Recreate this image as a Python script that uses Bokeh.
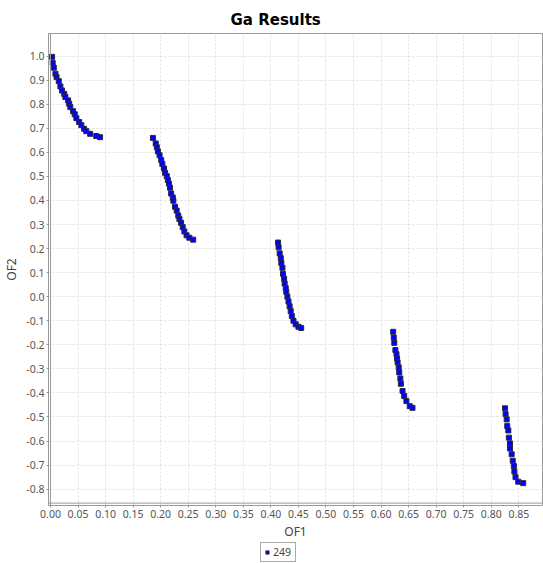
from bokeh.plotting import figure
from bokeh.layouts import column
from bokeh.models import (Range1d, SingleIntervalTicker, NumeralTickFormatter,
                          Legend, LegendItem, Span)
from bokeh.embed import file_html
from bokeh.resources import INLINE

# Pareto front points found by the GA, grouped by front segment
seg1_of1 = [0.003, 0.004, 0.006, 0.009, 0.011, 0.015, 0.018, 0.021, 0.025, 0.027,
            0.032, 0.034, 0.036, 0.041, 0.044, 0.047, 0.052, 0.056, 0.061, 0.065,
            0.072, 0.083, 0.090]
seg1_of2 = [0.997, 0.972, 0.952, 0.927, 0.913, 0.896, 0.874, 0.857, 0.843, 0.830,
            0.816, 0.802, 0.788, 0.771, 0.758, 0.742, 0.726, 0.713, 0.698, 0.688,
            0.677, 0.668, 0.663]

seg2_of1 = [0.186, 0.191, 0.193, 0.195, 0.198, 0.201, 0.203, 0.206, 0.208, 0.211,
            0.213, 0.215, 0.217, 0.219, 0.222, 0.223, 0.226, 0.229, 0.232, 0.234,
            0.237, 0.240, 0.243, 0.247, 0.252, 0.259]
seg2_of2 = [0.660, 0.637, 0.621, 0.604, 0.588, 0.568, 0.552, 0.533, 0.515, 0.501,
            0.485, 0.470, 0.453, 0.429, 0.412, 0.399, 0.374, 0.358, 0.337, 0.323,
            0.307, 0.289, 0.271, 0.255, 0.245, 0.237]

seg3_of1 = [0.413, 0.414, 0.416, 0.418, 0.419, 0.421, 0.422, 0.424, 0.425, 0.427,
            0.428, 0.430, 0.432, 0.434, 0.436, 0.438, 0.441, 0.445, 0.450, 0.455]
seg3_of2 = [0.225, 0.205, 0.180, 0.160, 0.140, 0.120, 0.095, 0.075, 0.055, 0.035,
            0.020, 0.000, -0.020, -0.040, -0.060, -0.080, -0.100, -0.115, -0.125, -0.130]

seg4_of1 = [0.622, 0.623, 0.624, 0.626, 0.628, 0.629, 0.630, 0.632, 0.633, 0.635,
            0.636, 0.639, 0.642, 0.646, 0.652, 0.657]
seg4_of2 = [-0.146, -0.170, -0.192, -0.222, -0.239, -0.257, -0.273, -0.294, -0.315, -0.340,
            -0.362, -0.392, -0.413, -0.434, -0.455, -0.462]

seg5_of1 = [0.825, 0.826, 0.828, 0.829, 0.831, 0.832, 0.834, 0.834, 0.837, 0.839,
            0.841, 0.842, 0.844, 0.849, 0.858]
seg5_of2 = [-0.464, -0.488, -0.510, -0.538, -0.556, -0.586, -0.610, -0.631, -0.655, -0.682,
            -0.704, -0.727, -0.750, -0.769, -0.775]

series_label = "249"
x_ticks_step = 0.05
y_ticks_step = 0.1

of1 = seg1_of1 + seg2_of1 + seg3_of1 + seg4_of1 + seg5_of1
of2 = seg1_of2 + seg2_of2 + seg3_of2 + seg4_of2 + seg5_of2

FONT = "Noto Sans"
GRID = "#dedede"
AXIS = "#9a9a9a"
MARKER = dict(marker="square", fill_color="#0000ff", line_color="#2a2a40", line_width=1)

p = figure(frame_width=494, frame_height=472,
           x_range=Range1d(-0.0036, 0.893), y_range=Range1d(-0.868, 1.094),
           output_backend="svg", toolbar_location=None,
           min_border_left=48, min_border_right=1, min_border_top=33, min_border_bottom=36,
           title="Ga Results")

p.title.align = "left"
p.title.offset = 182
p.title.text_font = "DejaVu Sans"
p.title.text_font_size = "15px"
p.title.text_font_style = "bold"
p.title.text_color = "#000000"

p.background_fill_color = "white"
p.border_fill_color = "white"
p.outline_line_color = AXIS
p.outline_line_width = 1

for ax in (p.xaxis[0], p.yaxis[0]):
    ax.axis_line_color = AXIS
    ax.major_tick_line_color = AXIS
    ax.major_tick_out = 2
    ax.major_tick_in = 0
    ax.minor_tick_line_color = None
    ax.major_label_text_font = FONT
    ax.major_label_text_font_size = "10.5px"
    ax.major_label_text_color = "#555555"
    ax.axis_label_text_font = FONT
    ax.axis_label_text_font_size = "12px"
    ax.axis_label_text_font_style = "normal"
    ax.axis_label_text_color = "#444444"

p.xaxis.axis_label = "OF1"
p.yaxis.axis_label = "OF2"
p.xaxis.ticker = SingleIntervalTicker(interval=x_ticks_step, num_minor_ticks=0)
p.yaxis.ticker = SingleIntervalTicker(interval=y_ticks_step, num_minor_ticks=0)
p.xaxis.formatter = NumeralTickFormatter(format="0.00")
p.yaxis.formatter = NumeralTickFormatter(format="0.0")
p.xaxis.major_label_standoff = 2
p.yaxis.major_label_standoff = 2
p.xaxis.axis_label_standoff = 2
p.yaxis.axis_label_standoff = 3

for g in (p.xgrid[0], p.ygrid[0]):
    g.grid_line_color = GRID
    g.grid_line_dash = "2 2"
    g.grid_line_width = 1

# inner plot border, set slightly inside the axis lines
p.add_layout(Span(location=0, dimension="height", line_color=AXIS, line_width=1))
p.add_layout(Span(location=-0.858, dimension="width", line_color=AXIS, line_width=1))

r = p.scatter(of1, of2, size=5, **MARKER)

# legend strip under the chart; its key marker sits outside the strip's view
lg = figure(width=543, height=20, x_range=Range1d(0, 1), y_range=Range1d(0, 1),
            x_axis_location=None, y_axis_location=None,
            output_backend="svg", toolbar_location=None, min_border=0)
lg.grid.visible = False
lg.outline_line_color = None
lg.background_fill_color = "white"
lg.border_fill_color = "white"
key = lg.scatter(x=[5], y=[5], size=7, **MARKER)
legend = Legend(items=[LegendItem(label=series_label, renderers=[key])],
                orientation="horizontal", location=(212, 0),
                border_line_color="#555555", border_line_width=1,
                label_text_font=FONT, label_text_font_size="10.5px",
                label_text_color="#444444", glyph_width=8, glyph_height=8,
                label_standoff=2, padding=2, margin=0, spacing=0,
                background_fill_color="white")
lg.add_layout(legend, "center")

open("out.html", "w").write(file_html(column(p, lg, spacing=0), INLINE))
